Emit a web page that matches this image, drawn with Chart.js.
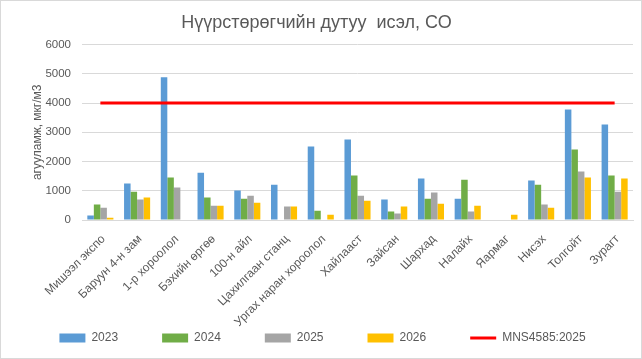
<!DOCTYPE html>
<html>
<head>
<meta charset="utf-8">
<script src="https://cdn.jsdelivr.net/npm/chart.js@4.4.1/dist/chart.umd.min.js"></script>
<style>
html, body { margin: 0; padding: 0; background: #ffffff; }
#wrap { position: relative; width: 642px; height: 359px; }
#frame { position: absolute; left: 0; top: 0; width: 642px; height: 359px; box-sizing: border-box; border: 1px solid #d9d9d9; pointer-events: none; }
</style>
</head>
<body>
<div id="wrap"><canvas id="c"></canvas><div id="frame"></div></div>
<script>
const chartTitle = "Нүүрстөрөгчийн дутуу  исэл, СО";
const yAxisTitle = "агууламж, мкг/м3";
const categories = ["Мишээл экспо", "Баруун 4-н зам", "1-р хороолол", "Бэхийн өргөө", "100-н айл", "Цахилгаан станц", "Ургах наран хороолол", "Хайлааст", "Зайсан", "Шархад", "Налайх", "Яармаг", "Нисэх", "Толгойт", "Зурагт"];
const seriesNames = ["2023", "2024", "2025", "2026"];
const values2023 = [150, 1250, 4880, 1620, 1010, 1210, 2510, 2750, 700, 1420, 730, null, 1350, 3780, 3270];
const values2024 = [530, 970, 1450, 770, 730, null, 320, 1520, 290, 730, 1380, null, 1210, 2410, 1520];
const values2025 = [420, 700, 1110, 490, 830, 460, null, 830, 220, 940, 290, null, 530, 1660, 970];
const values2026 = [80, 770, null, 490, 590, 460, 180, 660, 460, 560, 490, 180, 420, 1450, 1420];
const standardName = "MNS4585:2025";
const standardValues = [4000, 4000, 4000, 4000, 4000, 4000, 4000, 4000, 4000, 4000, 4000, 4000, 4000, 4000, 4000];
const yTickMin = 0;
const yTickMax = 6000;
const yTickStep = 1000;

const barColors = ["#5b9bd5", "#70ad47", "#a5a5a5", "#ffc000"];
const seriesValues = [values2023, values2024, values2025, values2026];
const textColor = "#595959";
const gridColor = "#d9d9d9";

Chart.defaults.font.family = "'Liberation Sans', Arial, sans-serif";
Chart.defaults.color = textColor;

const datasets = seriesNames.map((name, i) => ({
  type: "bar",
  label: name,
  data: seriesValues[i],
  backgroundColor: barColors[i],
  borderWidth: 0,
  categoryPercentage: 0.71,
  barPercentage: 1.0,
  pointStyle: "rect",
  order: 1
}));
datasets.push({
  type: "line",
  label: standardName,
  data: standardValues,
  borderColor: "#ff0000",
  backgroundColor: "#ff0000",
  borderWidth: 3,
  pointRadius: 0,
  pointHoverRadius: 0,
  pointStyle: "line",
  fill: false,
  order: 0
});

// let the rotated category labels run down past the axis box instead of being clipped,
// and nudge the legend row slightly right as in the reference
const layoutTweaks = {
  id: "layoutTweaks",
  afterLayout(chart) {
    chart.scales.x.bottom = chart.height;
    chart.legend.left += 6;
    chart.legend.right += 6;
  }
};

new Chart(document.getElementById("c"), {
  type: "bar",
  data: { labels: categories, datasets: datasets },
  plugins: [layoutTweaks],
  options: {
    responsive: true,
    maintainAspectRatio: false,
    animation: false,
    layout: { padding: { top: 0, left: 0, right: 9, bottom: 5 } },
    plugins: {
      tooltip: { enabled: false },
      title: {
        display: true,
        text: chartTitle,
        color: textColor,
        font: { size: 18, weight: "normal" },
        padding: { top: 12, bottom: 11 }
      },
      legend: {
        position: "bottom",
        align: "center",
        labels: {
          usePointStyle: true,
          pointStyleWidth: 26,
          boxHeight: 9,
          padding: 44,
          color: textColor,
          font: { size: 12 },
          sort: (a, b) => a.datasetIndex - b.datasetIndex
        }
      }
    },
    scales: {
      x: {
        offset: true,
        grid: { display: false, drawTicks: false },
        border: { display: true, color: gridColor, width: 1 },
        ticks: {
          autoSkip: false,
          maxRotation: 45,
          minRotation: 45,
          padding: 12,
          labelOffset: 3,
          color: textColor,
          font: { size: 12 }
        },
        afterFit: (scale) => { scale.height = 68; }
      },
      y: {
        min: yTickMin,
        max: yTickMax,
        grid: { color: gridColor, lineWidth: 1, drawTicks: false },
        border: { display: false },
        ticks: {
          stepSize: yTickStep,
          padding: 11,
          color: textColor,
          font: { size: 11.5 },
          callback: (v) => String(v)
        },
        title: {
          display: true,
          text: yAxisTitle,
          color: textColor,
          font: { size: 12 },
          padding: { top: 30, bottom: 0 }
        },
        afterFit: (scale) => { scale.width = 82; }
      }
    }
  }
});
</script>
</body>
</html>
